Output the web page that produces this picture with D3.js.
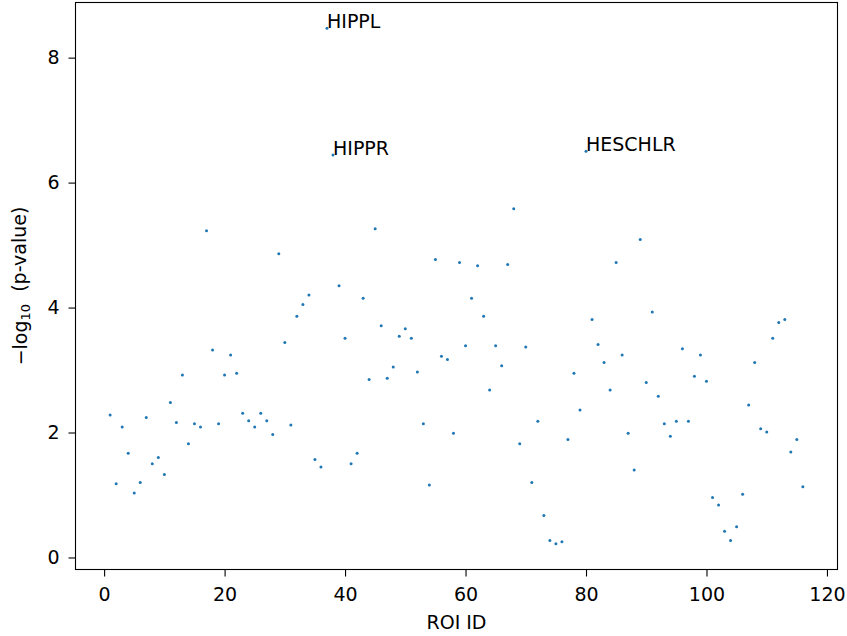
<!DOCTYPE html>
<html>
<head>
<meta charset="utf-8">
<script src="https://cdn.jsdelivr.net/npm/d3@7"></script>
<style>
    body { margin: 0; background: #fff; }
    svg { font-family: "DejaVu Sans", sans-serif; }
</style>
</head>
<body>
<div id="chart"></div>
<script>
// -log10(p) per ROI, ROI ids 1..116
var roiIds = d3.range(1, 117);
var pValues = [
    2.28, 1.18, 2.09, 1.67, 1.03, 1.20, 2.24, 1.50, 1.60, 1.33,
    2.48, 2.16, 2.92, 1.82, 2.14, 2.09, 5.23, 3.32, 2.14, 2.92,
    3.24, 2.95, 2.31, 2.19, 2.09, 2.31, 2.19, 1.97, 4.86, 3.44,
    2.12, 3.86, 4.05, 4.20, 1.57, 1.45, 8.47, 6.44, 4.35, 3.51,
    1.50, 1.67, 4.15, 2.85, 5.26, 3.71, 2.87, 3.05, 3.54, 3.66,
    3.51, 2.97, 2.14, 1.16, 4.77, 3.22, 3.17, 1.99, 4.72, 3.39,
    4.15, 4.67, 3.86, 2.68, 3.39, 3.07, 4.69, 5.58, 1.82, 3.37,
    1.20, 2.18, 0.67, 0.27, 0.22, 0.25, 1.89, 2.95, 2.36, 6.50,
    3.81, 3.41, 3.12, 2.68, 4.72, 3.24, 1.99, 1.40, 5.09, 2.80,
    3.93, 2.58, 2.14, 1.94, 2.18, 3.34, 2.18, 2.90, 3.24, 2.82,
    0.96, 0.84, 0.42, 0.27, 0.49, 1.01, 2.44, 3.12, 2.06, 2.01,
    3.51, 3.76, 3.81, 1.69, 1.89, 1.13
];
var labelIds = [37, 38, 80];
var labelNames = ["HIPPL", "HIPPR", "HESCHLR"];
var xTicks = [0, 20, 40, 60, 80, 100, 120];
var yTicks = [0, 2, 4, 6, 8];

var W = 847, H = 636;
var margin = {left: 75.5, top: 2.5, right: 9.5, bottom: 66.5};
var w = W - margin.left - margin.right;
var h = H - margin.top - margin.bottom;

// matplotlib style 5% padding around data
function padded(ext) {
    var p = (ext[1] - ext[0]) * 0.05;
    return [ext[0] - p, ext[1] + p];
}

var x = d3.scaleLinear().domain(padded(d3.extent(roiIds))).range([0, w]);
var y = d3.scaleLinear().domain(padded(d3.extent(pValues))).range([h, 0]);

var svg = d3.select("#chart").append("svg")
    .attr("width", W)
    .attr("height", H);

var g = svg.append("g")
    .attr("transform", "translate(" + margin.left + "," + margin.top + ")");

var xAxis = g.append("g")
    .attr("transform", "translate(0," + h + ")")
    .call(d3.axisBottom(x).tickValues(xTicks).tickSize(7).tickPadding(11));

var yAxis = g.append("g")
    .call(d3.axisLeft(y).tickValues(yTicks).tickSize(7).tickPadding(9));

[xAxis, yAxis].forEach(function(a){
    a.select(".domain").remove();
    a.selectAll("line").attr("stroke", "#000").attr("stroke-width", 1.1);
    a.selectAll("text")
        .attr("fill", "#000")
        .style("font-size", "19px")
        .style("font-family", "DejaVu Sans");
});

// frame
g.append("rect")
    .attr("width", w)
    .attr("height", h)
    .attr("fill", "none")
    .attr("stroke", "#000")
    .attr("stroke-width", 1.1);

var data = roiIds.map(function(id, i){ return {id: id, v: pValues[i]}; });

g.append("g").selectAll("circle")
    .data(data)
    .enter()
    .append("circle")
    .attr("cx", function(d){ return x(d.id); })
    .attr("cy", function(d){ return y(d.v); })
    .attr("r", 1.5)
    .attr("fill", "#1f77b4");

g.append("g").selectAll("text")
    .data(labelIds)
    .enter()
    .append("text")
    .attr("x", function(d){ return x(d); })
    .attr("y", function(d){ return y(pValues[d - 1]); })
    .attr("fill", "#000")
    .style("font-size", "19px")
    .text(function(d, i){ return labelNames[i]; });

svg.append("text")
    .attr("x", margin.left + w / 2)
    .attr("y", 629)
    .attr("text-anchor", "middle")
    .attr("fill", "#000")
    .style("font-size", "19px")
    .text("ROI ID");

var yl = svg.append("text")
    .attr("transform", "translate(27," + (margin.top + h / 2) + ") rotate(-90)")
    .attr("text-anchor", "middle")
    .attr("fill", "#000")
    .style("font-size", "19px");
yl.append("tspan").text("\u2212log");
yl.append("tspan").attr("dy", "0.25em").style("font-size", "13px").text("10");
yl.append("tspan").attr("dy", "-0.25em").text("\u00a0 (p-value)");
</script>
</body>
</html>
